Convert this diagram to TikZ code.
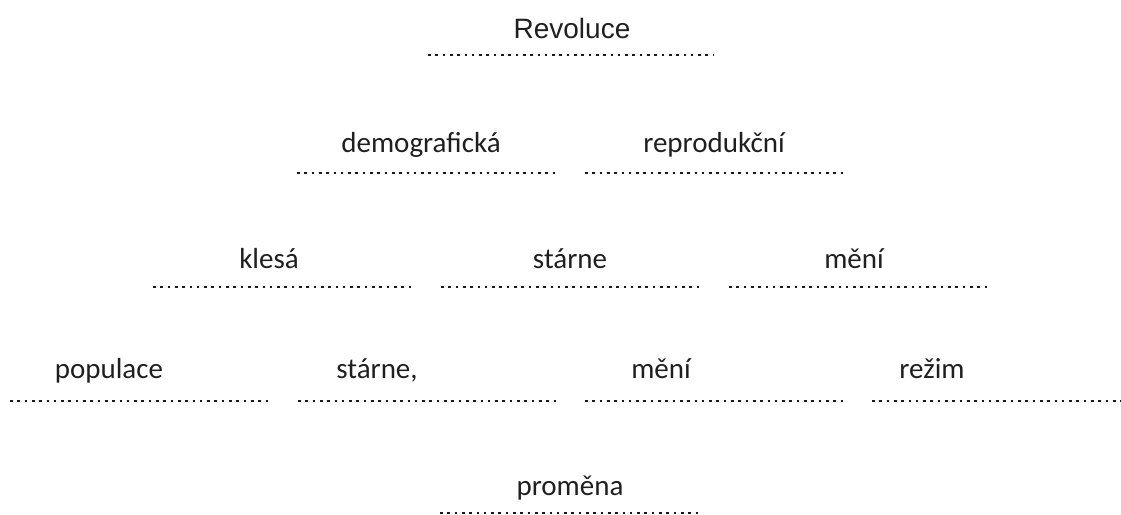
\documentclass[tikz,border=0pt]{standalone}
\usepackage{fontspec}
\setmainfont{Carlito}
\newfontfamily\headfont{Liberation Sans}
\begin{document}
\begin{tikzpicture}[x=1pt,y=-1pt,
  word/.style={anchor=base,inner sep=0pt,text=black!88,
    font=\fontsize{29}{34}\selectfont},
  headword/.style={word,font=\headfont\fontsize{28}{34}\selectfont},
  blank/.style={draw=black!90,line width=2.6pt,dash pattern=on 2.6pt off 4.7pt}]
\useasboundingbox (0,0) rectangle (1121,514);

% heading
\node[headword] (revoluce) at (572,38) {Revoluce};
\path[blank] (428,55) -- (713,55);

% second row
\node[word] (demograficka) at (421,152) {demografická};
\node[word] (reprodukcni) at (714,152) {reprodukční};
\path[blank] (297,173) -- (556,173);
\path[blank] (585,173) -- (843,173);

% third row
\node[word] (klesa) at (269,268) {klesá};
\node[word] (starne) at (570,268) {stárne};
\node[word] (meni) at (854,268) {mění};
\path[blank] (153,287) -- (412,287);
\path[blank] (441,287) -- (699,287);
\path[blank] (729,287) -- (988,287);

% fourth row
\node[word] (populace) at (109,378) {populace};
\node[word] (starnec) at (377,378) {stárne,};
\node[word] (meni2) at (661,378) {mění};
\node[word] (rezim) at (932,378) {režim};
\path[blank] (10,401) -- (268,401);
\path[blank] (298,401) -- (556,401);
\path[blank] (585,401) -- (843,401);
\path[blank] (872,401) -- (1121,401);

% last row
\node[word] (promena) at (570,495) {proměna};
\path[blank] (440,513) -- (700,513);
\end{tikzpicture}
\end{document}
